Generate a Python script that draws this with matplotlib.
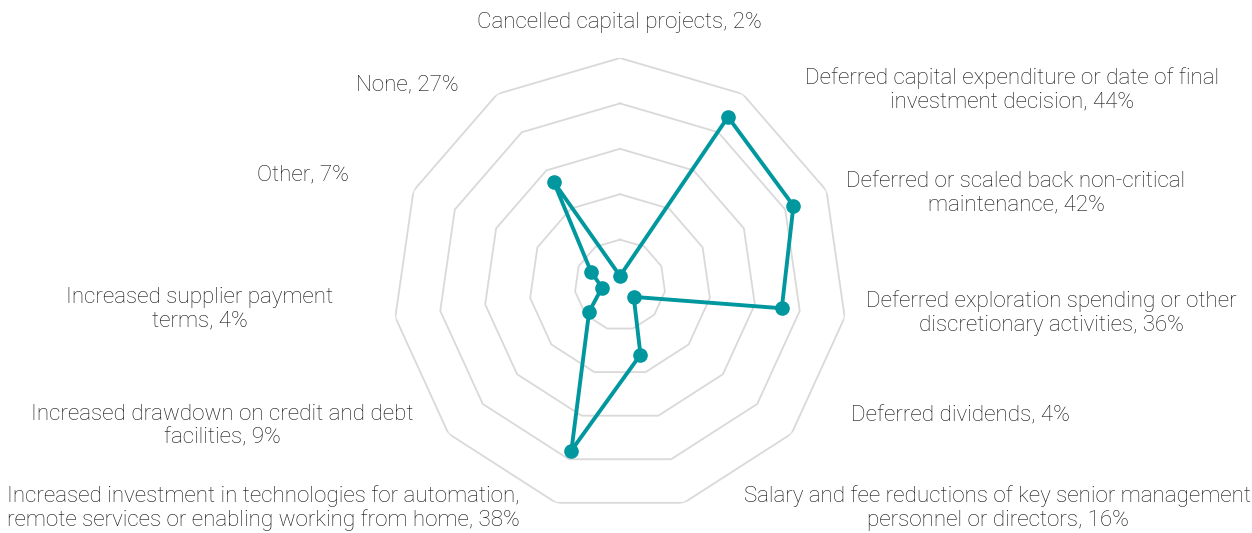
import numpy as np
import matplotlib
matplotlib.use("Agg")
import matplotlib.pyplot as plt
from matplotlib import font_manager

categories = [
    "Cancelled capital projects",
    "Deferred capital expenditure or date of final\ninvestment decision",
    "Deferred or scaled back non-critical\nmaintenance",
    "Deferred exploration spending or other\ndiscretionary activities",
    "Deferred dividends",
    "Salary and fee reductions of key senior management\npersonnel or directors",
    "Increased investment in technologies for automation,\nremote services or enabling working from home",
    "Increased drawdown on credit and debt\nfacilities",
    "Increased supplier payment\nterms",
    "Other",
    "None",
]
values = [2, 44, 42, 36, 4, 16, 38, 9, 4, 7, 27]
rings = [10, 20, 30, 40, 50]

# label block centres in pixels (from top-left), layout only
label_pos = [
    (619, 22), (1012, 90), (1016, 193), (1051, 313), (960, 416),
    (998, 508), (263, 508), (222, 426), (200, 309), (303, 175), (407, 85),
]

W, H = 1252, 533
TEAL = "#00979f"
GRID = "#d9d9d9"

names = {f.name for f in font_manager.fontManager.ttflist}
family = "Roboto" if "Roboto" in names else "DejaVu Sans"

fig = plt.figure(figsize=(W / 100, H / 100), dpi=100)
cx, cy, R = 620, 285, 227
ax = fig.add_axes([(cx - R) / W, (H - cy - R) / H, 2 * R / W, 2 * R / H], polar=True)
ax.set_theta_zero_location("N")
ax.set_theta_direction(-1)
ax.set_ylim(0, rings[-1])
ax.grid(False)
ax.spines["polar"].set_visible(False)
ax.set_xticks([])
ax.set_yticks([])
ax.patch.set_alpha(0)

n = len(values)
theta = np.linspace(0, 2 * np.pi, n, endpoint=False)
tc = np.append(theta, theta[0])

for r in rings:
    ax.plot(tc, [r] * (n + 1), color=GRID, lw=1.3, zorder=1)

ax.plot(tc, values + values[:1], color=TEAL, lw=2.8, zorder=3, solid_joinstyle="round")
ax.plot(theta, values, "o", color=TEAL, ms=9.5, zorder=4)

for cat, v, (px, py) in zip(categories, values, label_pos):
    fig.text(px / W, 1 - py / H, f"{cat}, {v}%", ha="center", va="center",
             multialignment="center", fontsize=16.1, color="#111111",
             family=family, fontweight="light", linespacing=1.15)

fig.savefig("out.png", dpi=100, facecolor="white")
